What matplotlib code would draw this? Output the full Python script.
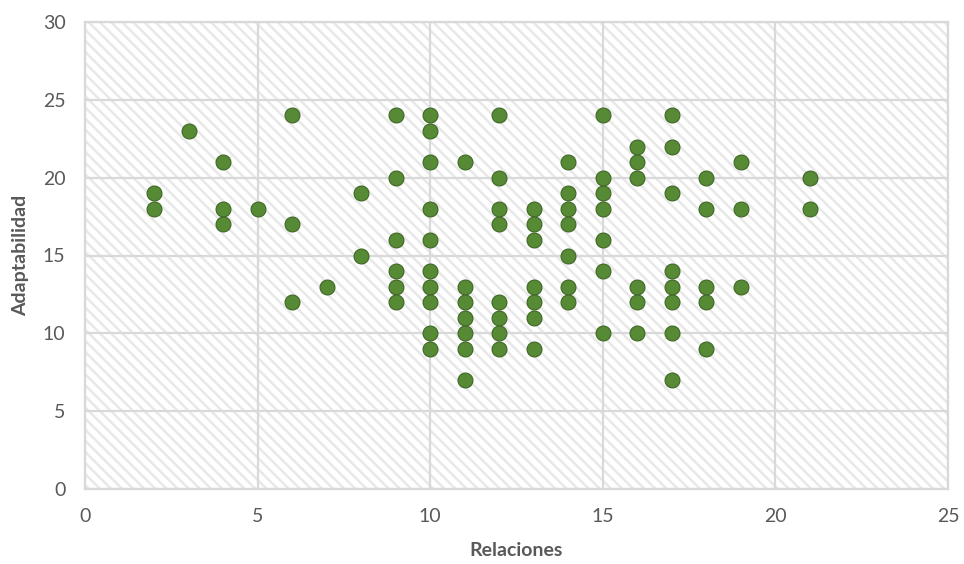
import matplotlib
matplotlib.use("Agg")
import matplotlib.pyplot as plt

# Relaciones (x) vs Adaptabilidad (y), one entry per visible dot
relaciones = [2, 2,
              3,
              4, 4, 4,
              5,
              6, 6, 6,
              7,
              8, 8,
              9, 9, 9, 9, 9, 9,
              10, 10, 10, 10, 10, 10, 10, 10, 10, 10,
              11, 11, 11, 11, 11, 11, 11,
              12, 12, 12, 12, 12, 12, 12, 12,
              13, 13, 13, 13, 13, 13, 13,
              14, 14, 14, 14, 14, 14, 14,
              15, 15, 15, 15, 15, 15, 15,
              16, 16, 16, 16, 16, 16,
              17, 17, 17, 17, 17, 17, 17, 17,
              18, 18, 18, 18, 18,
              19, 19, 19,
              21, 21]
adaptabilidad = [19, 18,
                 23,
                 21, 18, 17,
                 18,
                 24, 17, 12,
                 13,
                 19, 15,
                 24, 20, 16, 14, 13, 12,
                 24, 23, 21, 18, 16, 14, 13, 12, 10, 9,
                 21, 13, 12, 11, 10, 9, 7,
                 24, 20, 18, 17, 12, 11, 10, 9,
                 18, 17, 16, 13, 12, 11, 9,
                 21, 19, 18, 17, 15, 13, 12,
                 24, 20, 19, 18, 16, 14, 10,
                 22, 21, 20, 13, 12, 10,
                 24, 22, 19, 14, 13, 12, 10, 7,
                 20, 18, 13, 12, 9,
                 21, 18, 13,
                 20, 18]

x_ticks = [0, 5, 10, 15, 20, 25]
y_ticks = [0, 5, 10, 15, 20, 25, 30]

plt.rcParams['font.family'] = ['Lato', 'DejaVu Sans']
plt.rcParams['hatch.linewidth'] = 1.8
plt.rcParams['hatch.color'] = '#e8e8e8'

text_col = '#595959'
grid_col = '#d9d9d9'

fig = plt.figure(figsize=(9.64, 5.64), dpi=100)
ax = fig.add_axes([85/964, 1 - 489/564, (948 - 85)/964, (489 - 22)/564])

# hatched plot area
ax.patch.set_facecolor('white')
ax.patch.set_hatch('\\\\\\')
ax.patch.set_edgecolor('#e8e8e8')
ax.patch.set_linewidth(0)

ax.set_xlim(0, 25)
ax.set_ylim(0, 30)
ax.set_xticks(x_ticks)
ax.set_yticks(y_ticks)
ax.grid(True, color=grid_col, linewidth=1.6)
ax.set_axisbelow(True)
for s in ax.spines.values():
    s.set_color(grid_col)
    s.set_linewidth(1.6)

ax.scatter(relaciones, adaptabilidad, s=115, color='#578a34',
           edgecolors='#3e6624', linewidths=0.8, zorder=3)

ax.tick_params(length=0, labelsize=14, labelcolor=text_col, pad=14)
ax.set_xlabel('Relaciones', fontsize=14, fontweight='bold', color=text_col, labelpad=12)
ax.set_ylabel('Adaptabilidad', fontsize=14, fontweight='bold', color=text_col, labelpad=10)

plt.savefig('out.png', dpi=100)
